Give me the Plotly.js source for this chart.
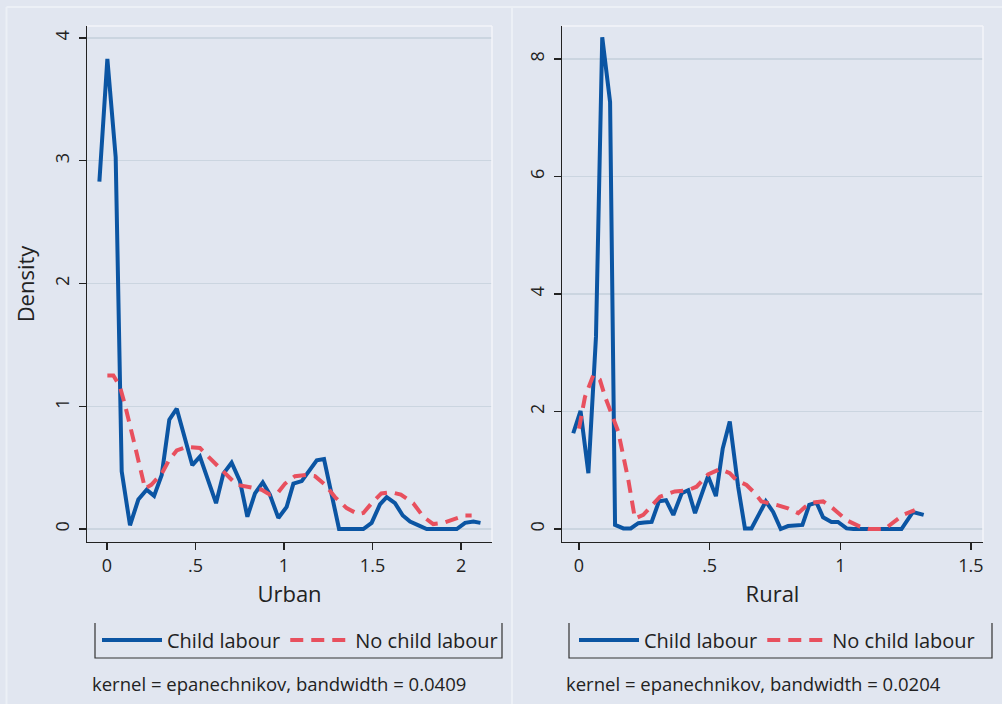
<!DOCTYPE html>
<html>
<head>
<meta charset="utf-8">
<script src="https://cdn.plot.ly/plotly-3.0.1.min.js"></script>
<style>
  html, body { margin: 0; padding: 0; background: #e1e6f0; }
  #chart { width: 1002px; height: 704px; }
</style>
</head>
<body>
<div id="chart"></div>
<script>
// ---- Data (kernel density estimates) ----
const urbanChildX = [-0.043, 0.002, 0.049, 0.083, 0.13, 0.177, 0.224, 0.266, 0.309, 0.352, 0.394, 0.44, 0.482, 0.525, 0.572, 0.616, 0.657, 0.704, 0.751, 0.793, 0.836, 0.88, 0.92, 0.968, 1.015, 1.053, 1.10, 1.147, 1.185, 1.226, 1.27, 1.311, 1.355, 1.40, 1.448, 1.495, 1.542, 1.58, 1.627, 1.671, 1.712, 1.76, 1.806, 1.85, 1.89, 1.93, 1.976, 2.023, 2.07, 2.11];
const urbanChildY = [2.83, 3.83, 3.03, 0.47, 0.03, 0.24, 0.32, 0.27, 0.44, 0.89, 0.98, 0.73, 0.52, 0.59, 0.40, 0.21, 0.45, 0.54, 0.39, 0.10, 0.29, 0.38, 0.28, 0.09, 0.18, 0.37, 0.39, 0.48, 0.56, 0.57, 0.29, 0, 0, 0, 0, 0.05, 0.20, 0.26, 0.21, 0.11, 0.06, 0.03, 0, 0, 0, 0, 0, 0.05, 0.06, 0.05];

const urbanNoChildX = [0.002, 0.036, 0.073, 0.10, 0.149, 0.215, 0.25, 0.309, 0.35, 0.394, 0.45, 0.525, 0.572, 0.62, 0.676, 0.733, 0.808, 0.874, 0.92, 0.968, 1.006, 1.062, 1.128, 1.175, 1.232, 1.288, 1.354, 1.42, 1.448, 1.495, 1.55, 1.606, 1.66, 1.73, 1.787, 1.843, 1.90, 1.966, 2.023, 2.06];
const urbanNoChildY = [1.25, 1.25, 1.16, 1.02, 0.73, 0.33, 0.36, 0.45, 0.56, 0.64, 0.67, 0.66, 0.59, 0.52, 0.45, 0.36, 0.34, 0.32, 0.28, 0.30, 0.37, 0.43, 0.44, 0.43, 0.36, 0.26, 0.17, 0.12, 0.13, 0.21, 0.29, 0.30, 0.28, 0.21, 0.10, 0.04, 0.05, 0.08, 0.11, 0.11];

const ruralChildX = [-0.022, 0.006, 0.036, 0.065, 0.089, 0.119, 0.138, 0.17, 0.198, 0.227, 0.25, 0.278, 0.306, 0.333, 0.361, 0.393, 0.418, 0.444, 0.494, 0.524, 0.55, 0.577, 0.609, 0.635, 0.66, 0.715, 0.743, 0.772, 0.80, 0.826, 0.855, 0.881, 0.909, 0.934, 0.966, 0.991, 1.024, 1.05, 1.08, 1.11, 1.13, 1.16, 1.19, 1.21, 1.234, 1.278, 1.319];
const ruralChildY = [1.63, 2.01, 0.95, 3.27, 8.37, 7.27, 0.07, 0.01, 0.01, 0.10, 0.11, 0.12, 0.47, 0.49, 0.24, 0.61, 0.66, 0.27, 0.90, 0.56, 1.37, 1.83, 0.72, 0.01, 0.01, 0.47, 0.29, 0.0, 0.05, 0.06, 0.07, 0.41, 0.45, 0.20, 0.12, 0.12, 0.01, 0, 0, 0, 0, 0, 0, 0, 0.0, 0.29, 0.24];

const ruralNoChildX = [0.0, 0.023, 0.055, 0.08, 0.10, 0.125, 0.15, 0.189, 0.214, 0.246, 0.28, 0.31, 0.367, 0.417, 0.45, 0.494, 0.54, 0.577, 0.603, 0.641, 0.673, 0.698, 0.756, 0.80, 0.839, 0.866, 0.896, 0.934, 0.972, 1.024, 1.075, 1.11, 1.17, 1.20, 1.24, 1.285];
const ruralNoChildY = [1.71, 2.25, 2.62, 2.54, 2.25, 1.97, 1.66, 0.83, 0.18, 0.24, 0.40, 0.55, 0.64, 0.66, 0.72, 0.93, 1.02, 0.95, 0.83, 0.75, 0.61, 0.47, 0.41, 0.35, 0.27, 0.38, 0.45, 0.47, 0.35, 0.15, 0.04, 0, 0, 0.10, 0.24, 0.32];

const xTickValsUrban = [0, 0.5, 1, 1.5, 2];
const xTickTextUrban = ['0', '.5', '1', '1.5', '2'];
const yTickValsUrban = [0, 1, 2, 3, 4];
const xTickValsRural = [0, 0.5, 1, 1.5];
const xTickTextRural = ['0', '.5', '1', '1.5'];
const yTickValsRural = [0, 2, 4, 6, 8];
const seriesNames = ['Child labour', 'No child labour'];
const notes = ['kernel = epanechnikov, bandwidth = 0.0409', 'kernel = epanechnikov, bandwidth = 0.0204'];

// ---- Styling ----
const W = 1002, H = 704;
const BG = '#e1e6f0';
const BLUE = '#0b55a3';
const RED = '#e8505e';
const INK = '#222222';
const GRID = '#cbd5e0';
const FONT = 'Open Sans, Noto Sans, sans-serif';
const px = v => v / W;
const py = v => 1 - v / H;

const blueLine = { color: BLUE, width: 4 };
const redLine = { color: RED, width: 4, dash: '13px,8px' };

const traces = [
  { type: 'scatter', mode: 'lines', x: urbanChildX, y: urbanChildY, name: seriesNames[0], line: blueLine, xaxis: 'x', yaxis: 'y', legend: 'legend' },
  { type: 'scatter', mode: 'lines', x: urbanNoChildX, y: urbanNoChildY, name: seriesNames[1], line: redLine, xaxis: 'x', yaxis: 'y', legend: 'legend' },
  { type: 'scatter', mode: 'lines', x: ruralChildX, y: ruralChildY, name: seriesNames[0], line: blueLine, xaxis: 'x2', yaxis: 'y2', legend: 'legend2' },
  { type: 'scatter', mode: 'lines', x: ruralNoChildX, y: ruralNoChildY, name: seriesNames[1], line: redLine, xaxis: 'x2', yaxis: 'y2', legend: 'legend2' }
];

const xCommon = {
  ticks: 'outside', ticklen: 7, tickwidth: 1.2, tickcolor: INK,
  showline: true, linecolor: INK, linewidth: 1.3,
  showgrid: false, zeroline: false, fixedrange: true,
  tickfont: { family: FONT, size: 18, color: INK }
};
const yCommon = {
  ticks: 'outside', ticklen: 7, tickwidth: 1.2, tickcolor: INK,
  showline: true, linecolor: INK, linewidth: 1.3,
  showgrid: true, gridcolor: GRID, gridwidth: 1.2, zeroline: false, fixedrange: true,
  tickangle: -90, ticklabelstandoff: 3,
  tickfont: { family: FONT, size: 18, color: INK }
};

const plotTop = 26, plotBottom = 542;
const lx0 = 87, lx1 = 492, rx0 = 562, rx1 = 983;

const frameColor = '#ecf0f6';
const regionColor = '#f3f5fa';
const legBox = '#333333';

const shapes = [
  // outer subgraph frames
  { type: 'line', xref: 'paper', yref: 'paper', x0: px(6.5), x1: px(1002), y0: py(7), y1: py(7), line: { color: frameColor, width: 2 } },
  { type: 'line', xref: 'paper', yref: 'paper', x0: px(6.5), x1: px(6.5), y0: py(7), y1: py(704), line: { color: frameColor, width: 2 } },
  { type: 'line', xref: 'paper', yref: 'paper', x0: px(512), x1: px(512), y0: py(7), y1: py(704), line: { color: frameColor, width: 2 } },
  // plot region outlines (top and right)
  { type: 'line', xref: 'paper', yref: 'paper', x0: px(lx0), x1: px(lx1), y0: py(plotTop), y1: py(plotTop), line: { color: regionColor, width: 1.5 } },
  { type: 'line', xref: 'paper', yref: 'paper', x0: px(lx1), x1: px(lx1), y0: py(plotTop), y1: py(plotBottom), line: { color: regionColor, width: 1.5 } },
  { type: 'line', xref: 'paper', yref: 'paper', x0: px(rx0), x1: px(rx1), y0: py(plotTop), y1: py(plotTop), line: { color: regionColor, width: 1.5 } },
  { type: 'line', xref: 'paper', yref: 'paper', x0: px(rx1), x1: px(rx1), y0: py(plotTop), y1: py(plotBottom), line: { color: regionColor, width: 1.5 } },
  // legend boxes (left, bottom, right sides)
  { type: 'path', xref: 'paper', yref: 'paper', path: `M ${px(95)} ${py(623)} L ${px(95)} ${py(658)} L ${px(502)} ${py(658)} L ${px(502)} ${py(623)}`, line: { color: legBox, width: 1.2 } },
  { type: 'path', xref: 'paper', yref: 'paper', path: `M ${px(569)} ${py(623)} L ${px(569)} ${py(658)} L ${px(992)} ${py(658)} L ${px(992)} ${py(623)}`, line: { color: legBox, width: 1.2 } }
];

const layout = {
  width: W, height: H,
  margin: { l: 0, r: 0, t: 0, b: 0 },
  paper_bgcolor: BG, plot_bgcolor: BG,
  font: { family: FONT, color: INK },
  xaxis: Object.assign({}, xCommon, {
    domain: [px(lx0), px(lx1)], range: [-0.113, 2.175], anchor: 'y',
    tickvals: xTickValsUrban, ticktext: xTickTextUrban,
    title: { text: 'Urban', font: { family: FONT, size: 22, color: INK }, standoff: 10 }
  }),
  yaxis: Object.assign({}, yCommon, {
    domain: [py(plotBottom), py(plotTop)], range: [-0.106, 4.098], anchor: 'x',
    tickvals: yTickValsUrban,
    title: { text: 'Density', font: { family: FONT, size: 22, color: INK }, standoff: 8 }
  }),
  xaxis2: Object.assign({}, xCommon, {
    domain: [px(rx0), px(rx1)], range: [-0.065, 1.546], anchor: 'y2',
    tickvals: xTickValsRural, ticktext: xTickTextRural,
    title: { text: 'Rural', font: { family: FONT, size: 22, color: INK }, standoff: 10 }
  }),
  yaxis2: Object.assign({}, yCommon, {
    domain: [py(plotBottom), py(plotTop)], range: [-0.221, 8.562], anchor: 'x2',
    tickvals: yTickValsRural
  }),
  legend: {
    orientation: 'h', x: px(97), y: py(640), xanchor: 'left', yanchor: 'middle',
    bgcolor: 'rgba(0,0,0,0)', borderwidth: 0,
    font: { family: FONT, size: 20, color: INK }, itemwidth: 60, traceorder: 'normal'
  },
  legend2: {
    orientation: 'h', x: px(574), y: py(640), xanchor: 'left', yanchor: 'middle',
    bgcolor: 'rgba(0,0,0,0)', borderwidth: 0,
    font: { family: FONT, size: 20, color: INK }, itemwidth: 60, traceorder: 'normal'
  },
  annotations: [
    { xref: 'paper', yref: 'paper', x: px(90), y: py(683), xanchor: 'left', yanchor: 'middle', showarrow: false, text: notes[0], font: { family: FONT, size: 18.5, color: INK } },
    { xref: 'paper', yref: 'paper', x: px(564), y: py(683), xanchor: 'left', yanchor: 'middle', showarrow: false, text: notes[1], font: { family: FONT, size: 18.5, color: INK } }
  ],
  shapes: shapes,
  showlegend: true
};

Plotly.newPlot('chart', traces, layout, { displayModeBar: false, staticPlot: true });
</script>
</body>
</html>
